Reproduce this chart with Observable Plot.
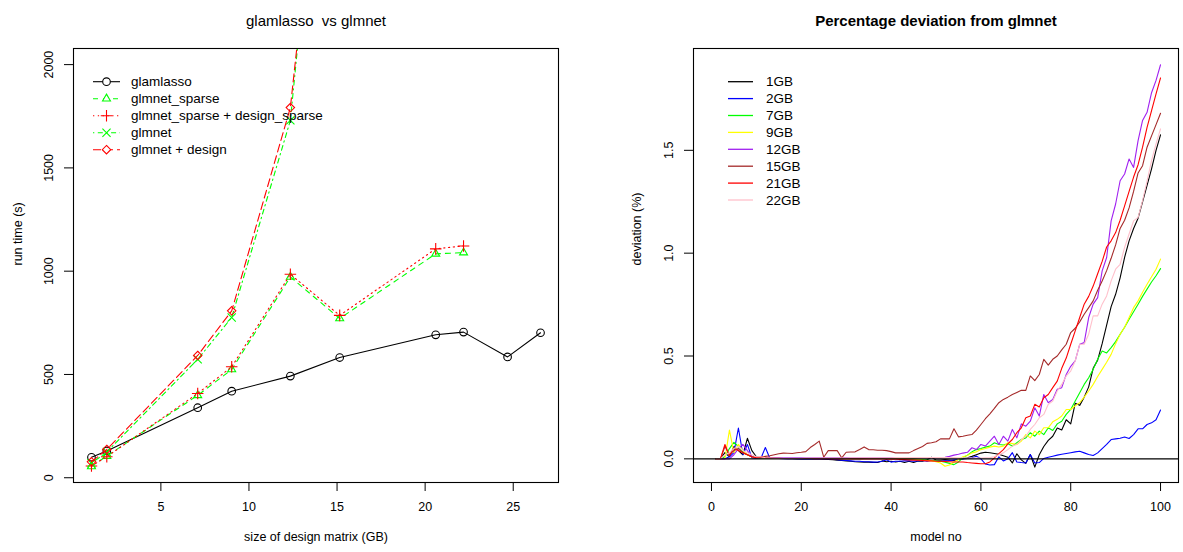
<!DOCTYPE html>
<html><head><meta charset="utf-8">
<script src="https://cdn.jsdelivr.net/npm/d3@7"></script>
<script src="https://cdn.jsdelivr.net/npm/@observablehq/plot@0.6"></script>
<style>
body{margin:0;background:#fff;}
#wrap{position:relative;width:1183px;height:552px;}
#left,#right{position:absolute;top:0;}
#left{left:0;} #right{left:591px;}
</style></head><body><div id="wrap"><div id="left"></div><div id="right"></div></div>
<script>
// ---------- Left panel data ----------
const sizesGB = [1.06, 1.93, 7.09, 9.02, 12.35, 15.15, 20.6, 22.18, 24.68, 26.55];
const glamlasso = [99, 130, 339, 419, 492, 582, 692, 705, 585, 702];
const glmnetSparse = [55, 105, 399, 524, 972, 771, 1084, 1090];
const glmnetSparseDesign = [57, 102, 408, 537, 985, 786, 1108, 1122];
const glmnet = [70, 125, 573, 776, 1730, 4150];
const glmnetDesign = [77, 137, 592, 808, 1792, 4000];
const leftNames = ["glamlasso", "glmnet_sparse", "glmnet_sparse + design_sparse", "glmnet", "glmnet + design"];
const leftTicksX = [5, 10, 15, 20, 25];
const leftTicksY = [0, 500, 1000, 1500, 2000];

// ---------- Right panel data (model 1..100) ----------
const dev1GB = [0,0,0.03,0.01,0.06,0.04,0.02,0.10,0.04,0.01,
0.005,0.005,0.003,0.002,0.002,0.002,0.001,0.001,0,0,
0,0,0,-0.001,-0.002,-0.003,-0.004,-0.006,-0.008,-0.010,
-0.012,-0.014,-0.015,-0.016,-0.016,-0.017,-0.018,-0.010,-0.014,-0.012,
-0.015,-0.012,-0.018,-0.012,-0.018,-0.010,-0.012,-0.004,0.008,-0.006,
-0.006,-0.004,-0.006,-0.008,-0.003,0.001,0.005,0.012,0.020,0.028,
0.032,0.030,0.026,0.022,0.015,0.008,-0.020,0.025,-0.005,-0.022,
0.021,-0.040,0.020,0.060,0.090,0.110,0.150,0.140,0.190,0.170,
0.270,0.260,0.300,0.350,0.440,0.480,0.560,0.650,0.740,0.800,
0.880,0.980,1.060,1.120,1.170,1.250,1.330,1.410,1.500,1.575];
const dev2GB = [0,0,0.0,0.01,0.03,0.15,0.02,0.07,0.005,0.002,
0.002,0.055,0.003,0.002,0.002,0.001,0.001,0.001,0.001,0,
0,0,0,0,0,0,-0.002,-0.004,-0.006,-0.008,
-0.010,-0.012,-0.012,-0.014,-0.014,-0.016,-0.015,-0.012,-0.004,-0.016,
-0.012,-0.012,-0.010,-0.010,-0.012,-0.010,-0.008,-0.012,-0.008,-0.010,
-0.012,-0.010,-0.008,-0.005,-0.003,0.000,0.002,0.005,0.013,0.000,
-0.025,-0.030,-0.028,0.010,-0.010,0.000,0.030,-0.015,-0.018,-0.020,
0.021,-0.020,-0.018,0.002,0.008,0.013,0.018,0.022,0.026,0.030,
0.034,0.037,0.029,0.021,0.016,0.029,0.050,0.070,0.094,0.097,
0.100,0.106,0.099,0.118,0.146,0.146,0.167,0.175,0.190,0.237];
const dev7GB = [0,0,0.01,0.05,0.08,0.06,0.03,0.02,0.01,0.005,
0.004,0.004,0.003,0.003,0.003,0.002,0.002,0.002,0.002,0.002,
0.002,0.002,0.002,0.002,0.002,0.002,0.002,0.002,0.001,0.001,
0.001,0.001,0.001,0.002,0.002,0.002,0.002,0.002,0.002,0.002,
0.002,0.002,0.002,0.001,0.000,-0.002,-0.004,-0.006,-0.008,-0.010,
-0.012,-0.016,-0.022,-0.028,-0.015,0.005,0.018,0.034,0.045,0.050,
0.057,0.062,0.078,0.070,0.067,0.073,0.062,0.078,0.094,0.102,
0.127,0.110,0.135,0.118,0.151,0.138,0.170,0.183,0.216,0.240,
0.281,0.321,0.362,0.394,0.435,0.484,0.524,0.515,0.541,0.570,
0.606,0.640,0.679,0.715,0.752,0.790,0.825,0.860,0.890,0.925];
const dev9GB = [0,0,0.00,0.14,0.03,0.07,0.04,0.02,0.01,0.005,
0.004,0.003,0.003,0.002,0.002,0.002,0.002,0.002,0.002,0.002,
0.002,0.002,0.002,0.002,0.002,0.002,0.002,0.002,0.002,0.002,
0.002,0.002,0.002,0.002,0.002,0.002,0.002,0.002,0.002,0.002,
0.002,0.002,0.001,0.000,-0.002,-0.004,-0.006,-0.008,-0.010,-0.014,
-0.020,-0.036,-0.030,-0.015,-0.003,0.010,0.016,0.029,0.034,0.045,
0.050,0.057,0.062,0.058,0.062,0.078,0.074,0.070,0.086,0.118,
0.102,0.135,0.118,0.151,0.151,0.180,0.192,0.208,0.240,0.240,
0.258,0.273,0.300,0.330,0.362,0.400,0.435,0.470,0.508,0.560,
0.606,0.640,0.687,0.735,0.768,0.810,0.849,0.885,0.922,0.971];
const dev12GB = [0,0,0,0,0.02,0.05,0.07,0.04,0.01,0.005,
0.005,0.005,0.005,0.005,0.005,0.005,0.005,0.005,0.005,0.005,
0.005,0.005,0.005,0.005,0.005,0.005,0.005,0.005,0.005,0.005,
0.005,0.005,0.005,0.005,0.005,0.005,0.005,0.005,0.005,0.005,
0.005,0.005,0.005,0.005,0.005,0.005,0.005,0.005,0.005,0.005,
0.005,0.008,0.012,0.018,0.022,0.028,0.032,0.054,0.045,0.070,
0.062,0.086,0.110,0.070,0.110,0.086,0.143,0.102,0.170,0.159,
0.183,0.248,0.208,0.313,0.273,0.289,0.338,0.346,0.410,0.450,
0.476,0.557,0.565,0.687,0.752,0.784,0.914,0.979,1.157,1.239,
1.352,1.385,1.458,1.417,1.547,1.645,1.685,1.780,1.840,1.916];
const dev15GB = [0,0,0.06,0.02,0.04,0.05,0.03,0.02,0.01,0.005,
0.008,0.012,0.015,0.020,0.025,0.028,0.027,0.026,0.030,0.032,
0.035,0.055,0.070,0.086,0.008,0.040,0.040,0.040,0.005,0.032,
0.033,0.034,0.045,0.058,0.045,0.044,0.042,0.042,0.040,0.035,
0.029,0.029,0.029,0.029,0.040,0.050,0.060,0.075,0.078,0.083,
0.097,0.097,0.097,0.146,0.107,0.110,0.115,0.118,0.140,0.167,
0.195,0.219,0.245,0.273,0.289,0.300,0.313,0.323,0.333,0.333,
0.403,0.380,0.410,0.484,0.456,0.484,0.500,0.530,0.557,0.614,
0.635,0.666,0.703,0.735,0.768,0.820,0.865,0.915,0.975,1.040,
1.120,1.160,1.220,1.300,1.390,1.425,1.515,1.570,1.625,1.680];
const dev21GB = [0,0,0.07,0.015,0.05,0.04,0.03,0.02,0.01,0.005,
0.010,0.005,0.004,0.003,0.003,0.002,0.002,0.002,0.002,0.002,
0.002,0.002,0.001,0.001,0.001,0.001,0.000,0.000,0.000,0.000,
0.000,0.000,0.000,0.000,-0.001,-0.001,-0.001,-0.001,-0.002,-0.002,
-0.002,-0.003,-0.004,-0.005,-0.006,-0.007,-0.008,-0.010,-0.010,-0.012,
-0.012,-0.013,-0.014,-0.015,-0.015,-0.015,-0.018,-0.020,-0.022,-0.024,
-0.024,-0.015,0.005,0.025,0.045,0.073,0.094,0.127,0.151,0.200,
0.208,0.265,0.252,0.297,0.313,0.346,0.378,0.440,0.490,0.557,
0.622,0.687,0.752,0.790,0.840,0.900,0.960,1.030,1.060,1.100,
1.160,1.230,1.300,1.370,1.430,1.515,1.612,1.693,1.774,1.852];
const dev22GB = [0,0,0.02,0.03,0.05,0.06,0.04,0.03,0.02,0.01,
0.010,0.005,0.004,0.003,0.003,0.003,0.003,0.003,0.003,0.003,
0.004,0.004,0.004,0.004,0.004,0.004,0.004,0.004,0.004,0.004,
0.005,0.005,0.005,0.005,0.005,0.005,0.005,0.005,0.005,0.005,
0.006,0.006,0.006,0.006,0.006,0.006,0.006,0.006,0.006,0.006,
0.006,0.006,0.006,0.006,0.005,0.005,0.004,0.004,0.004,0.004,
0.005,0.006,0.010,0.020,0.029,0.045,0.062,0.070,0.094,0.110,
0.143,0.167,0.200,0.216,0.265,0.281,0.330,0.362,0.403,0.427,
0.476,0.557,0.557,0.606,0.695,0.695,0.752,0.792,0.865,0.922,
0.946,1.028,1.093,1.157,1.174,1.255,1.352,1.450,1.531,1.604];
const rightNames = ["1GB", "2GB", "7GB", "9GB", "12GB", "15GB", "21GB", "22GB"];
const rightTicksX = [0, 20, 40, 60, 80, 100];
const rightTicksY = [0, 0.5, 1, 1.5];

// ---------- styling ----------
const FONT = '"Liberation Sans", Arial, Helvetica, sans-serif';
const leftStyles = [
  {stroke: "#000000", dash: null, symbol: "circle"},
  {stroke: "#00ff00", dash: "5,5", symbol: "triangle2"},
  {stroke: "#ff0000", dash: "1.3,3.5", symbol: "plus"},
  {stroke: "#00ff00", dash: "1.3,3.5,5,3.5", symbol: "times"},
  {stroke: "#ff0000", dash: "8,4", symbol: "diamond2"}
];
const rightColors = ["#000000", "#0000ff", "#00ff00", "#ffff00", "#a020f0", "#a52a2a", "#ff0000", "#ffc0cb"];

const leftSeries = [glamlasso, glmnetSparse, glmnetSparseDesign, glmnet, glmnetDesign];
const leftRows = leftSeries.map(vals => vals.map((v, i) => ({x: sizesGB[i], y: v})));

const leftMarks = [];
leftRows.forEach((rows, k) => {
  const st = leftStyles[k];
  leftMarks.push(Plot.line(rows, {x: "x", y: "y", stroke: st.stroke, strokeWidth: 1.1, strokeDasharray: st.dash, clip: true}));
  leftMarks.push(Plot.dot(rows, {x: "x", y: "y", stroke: st.stroke, symbol: st.symbol, r: 3.8, strokeWidth: 1.1, clip: true}));
});

const left = Plot.plot({
  width: 591, height: 552,
  marginLeft: 73, marginRight: 33, marginTop: 48, marginBottom: 70,
  style: {fontFamily: FONT, fontSize: "12.5px", background: "white", color: "black"},
  x: {domain: [0.04, 27.57]},
  y: {domain: [-23, 2078]},
  marks: [
    ...leftMarks,
    Plot.frame({stroke: "black", strokeWidth: 1.1}),
    Plot.axisX({ticks: leftTicksX, tickSize: 9, tickPadding: 11, label: null}),
    Plot.axisY({ticks: leftTicksY, tickSize: 9, tickPadding: 12, tickRotate: -90, tickFormat: d => String(d), label: null}),
    Plot.text(["glamlasso  vs glmnet"], {frameAnchor: "top", dy: -33, fontSize: 15}),
    Plot.text(["size of design matrix (GB)"], {frameAnchor: "bottom", dy: 58}),
    Plot.text(["run time (s)"], {frameAnchor: "left", dx: -56, rotate: -90})
  ]
});

const models = d3.range(1, 101);
const rightSeries = [dev1GB, dev2GB, dev7GB, dev9GB, dev12GB, dev15GB, dev21GB, dev22GB];
const rightMarks = rightSeries.map((vals, k) =>
  Plot.line(vals.map((v, i) => ({x: models[i], y: v})), {x: "x", y: "y", stroke: rightColors[k], strokeWidth: 1.1})
);

const right = Plot.plot({
  width: 592, height: 552,
  marginLeft: 102, marginRight: 5, marginTop: 48, marginBottom: 70,
  style: {fontFamily: FONT, fontSize: "12.5px", background: "white", color: "black"},
  x: {domain: [-4, 104]},
  y: {domain: [-0.115, 1.995]},
  marks: [
    ...rightMarks,
    Plot.ruleY([0], {stroke: "black", strokeWidth: 1.1}),
    Plot.frame({stroke: "black", strokeWidth: 1.1}),
    Plot.axisX({ticks: rightTicksX, tickSize: 9, tickPadding: 11, label: null}),
    Plot.axisY({ticks: rightTicksY, tickSize: 9, tickPadding: 12, tickRotate: -90, tickFormat: d3.format(".1f"), label: null}),
    Plot.text(["Percentage deviation from glmnet"], {frameAnchor: "top", dy: -33, fontSize: 15, fontWeight: "bold"}),
    Plot.text(["model no"], {frameAnchor: "bottom", dy: 58}),
    Plot.text(["deviation (%)"], {frameAnchor: "left", dx: -57, rotate: -90})
  ]
});

document.getElementById("left").appendChild(left);
document.getElementById("right").appendChild(right);

// ---------- legends (drawn into the plot SVGs) ----------
function legend(svg, items, opt) {
  const g = d3.select(svg).append("g").attr("font-family", FONT).attr("font-size", opt.fontSize).attr("text-anchor", "start");
  items.forEach((it, i) => {
    const y = opt.y0 + i * opt.dy;
    g.append("line").attr("x1", opt.x0).attr("x2", opt.x1).attr("y1", y).attr("y2", y)
      .attr("stroke", it.stroke).attr("stroke-width", opt.lw).attr("stroke-dasharray", it.dash || null);
    if (it.symbol) {
      const types = {circle: d3.symbolCircle, triangle2: d3.symbolTriangle2, plus: d3.symbolPlus, times: d3.symbolTimes, diamond2: d3.symbolDiamond2};
      g.append("path").attr("d", d3.symbol(types[it.symbol], 3.8 * 3.8 * Math.PI)())
        .attr("transform", `translate(${(opt.x0 + opt.x1) / 2},${y})`)
        .attr("fill", "white").attr("stroke", it.stroke).attr("stroke-width", 1.1);
    }
    g.append("text").attr("x", opt.tx).attr("y", y).attr("dy", "0.35em").attr("text-anchor", "start").text(it.name);
  });
}
legend(left, leftNames.map((n, i) => ({name: n, ...leftStyles[i]})),
  {x0: 93, x1: 120, tx: 131, y0: 81.7, dy: 17, fontSize: 13.5, lw: 1.1});
legend(right, rightNames.map((n, i) => ({name: n, stroke: rightColors[i]})),
  {x0: 728 - 591, x1: 753 - 591, tx: 766 - 591, y0: 81.7, dy: 16.9, fontSize: 13.5, lw: 1.3});
</script>
</body></html>
